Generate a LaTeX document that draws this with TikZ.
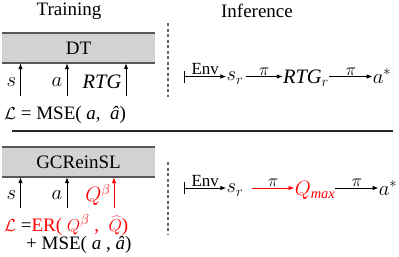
\documentclass[tikz,border=0pt]{standalone}
\usepackage{fontspec}
\setmainfont{Liberation Serif}
\newfontfamily\tnr{Liberation Serif}
\usetikzlibrary{arrows.meta}
\begin{document}
\begin{tikzpicture}[x=1pt,y=-1pt,
  txt/.style={font=\tnr\fontsize{19}{22}\selectfont, inner sep=0pt},
  mth/.style={font=\tnr\fontsize{20.5}{24}\selectfont, inner sep=0pt},
  arr/.style={-{Latex[length=6pt,width=4.5pt]}, line width=0.9pt},
  envarr/.style={{Bar[width=12pt]}-{Latex[length=6pt,width=4.5pt]}, line width=0.9pt},
  modelbox/.style={fill=gray!35, minimum width=153pt, minimum height=30pt, inner sep=0pt, font=\tnr\fontsize{19}{22}\selectfont},
  boxedge/.style={draw=black!65, line width=1.5pt},
  vsep/.style={draw=black!60, line width=1.2pt, dash pattern=on 3pt off 2.5pt},
  hsep/.style={draw=black!85, line width=1.3pt},
  lbl/.style={font=\tnr\fontsize{17}{19}\selectfont, inner sep=1pt, above}
]
\useasboundingbox (0,0) rectangle (399,257);

% headings
\node[txt] (train) at (69,11) {Training};
\node[txt] (infer) at (257,11) {Inference};

% ---------- top: DT ----------
\node[modelbox] (dt) at (78.5,48) {DT};
\draw[boxedge] (dt.north west) -- (dt.north east);
\draw[boxedge] (dt.south west) -- (dt.south east);

\coordinate (ts) at (20.5,96);
\coordinate (ta) at (67,96);
\coordinate (tr) at (126,96);
\draw[arr] (ts) -- (ts |- dt.south);
\draw[arr] (ta) -- (ta |- dt.south);
\draw[arr] (tr) -- (tr |- dt.south);
\node[mth] (tsl) at (11.5,82) {$s$};
\node[mth] (tal) at (57,82) {$a$};
\node[mth] (trl) at (102,82) {$\mathit{RTG}$};

\node[txt, anchor=west] (tloss) at (4,115) {$\mathcal{L}$ = MSE( \textit{a},\ \ \textit{â})};

\draw[vsep] (168,23) -- (168,97);

\coordinate (tenv) at (184,76.5);
\node[mth] (tsr) at (235,78) {$s_r$};
\node[mth] (trtg) at (306,78) {$\mathit{RTG}_r$};
\node[mth] (tastar) at (382,76) {$a^{*}$};
\draw[envarr] (tenv) -- (tsr.west |- tenv) node[midway, lbl] (tenvl) {Env};
\draw[arr] (tsr.east |- tenv) ++(2,0) coordinate (tp1s) -- (trtg.west |- tenv) node[midway, lbl] (tpi1) {$\pi$};
\draw[arr] (trtg.east |- tenv) -- (tastar.west |- tenv) node[midway, lbl] (tpi2) {$\pi$};

% separator
\draw[hsep] (12,131) -- (393,131);

% ---------- bottom: GCReinSL ----------
\node[modelbox] (gc) at (78.5,162) {GCReinSL};
\draw[boxedge] (gc.north west) -- (gc.north east);
\draw[boxedge] (gc.south west) -- (gc.south east);

\coordinate (bs) at (20.5,208);
\coordinate (ba) at (67,208);
\coordinate (bq) at (114,208);
\draw[arr] (bs) -- (bs |- gc.south);
\draw[arr] (ba) -- (ba |- gc.south);
\draw[arr, red] (bq) -- (bq |- gc.south);
\node[mth] (bsl) at (11.5,195) {$s$};
\node[mth] (bal) at (57,195) {$a$};
\node[mth, red] (bql) at (98,195) {$Q^{\beta}$};

\node[txt, anchor=west] (bloss1) at (4,225) {\color{red}$\mathcal{L}$ \color{black}=\color{red}ER( $Q^{\beta}$ ,\ \ $\widehat{Q}$)};
\node[txt, anchor=west] (bloss2) at (26,245) {+ MSE( \textit{a} ,\ \textit{â})};

\draw[vsep] (168,162) -- (168,235);

\coordinate (benv) at (184,188);
\node[mth] (bsr) at (235,190) {$s_r$};
\node[mth, red] (bqm) at (315,190) {$Q_{\mathit{max}}$};
\node[mth] (bastar) at (388,188) {$a^{*}$};
\draw[envarr] (benv) -- (bsr.west |- benv) node[midway, lbl] (benvl) {Env};
\draw[arr, red] (252,188) coordinate (bp1s) -- (bqm.west |- benv) node[midway, lbl, black] (bpi1) {$\pi$};
\draw[arr] (bqm.east |- benv) -- (bastar.west |- benv) node[midway, lbl] (bpi2) {$\pi$};
\end{tikzpicture}
\end{document}
